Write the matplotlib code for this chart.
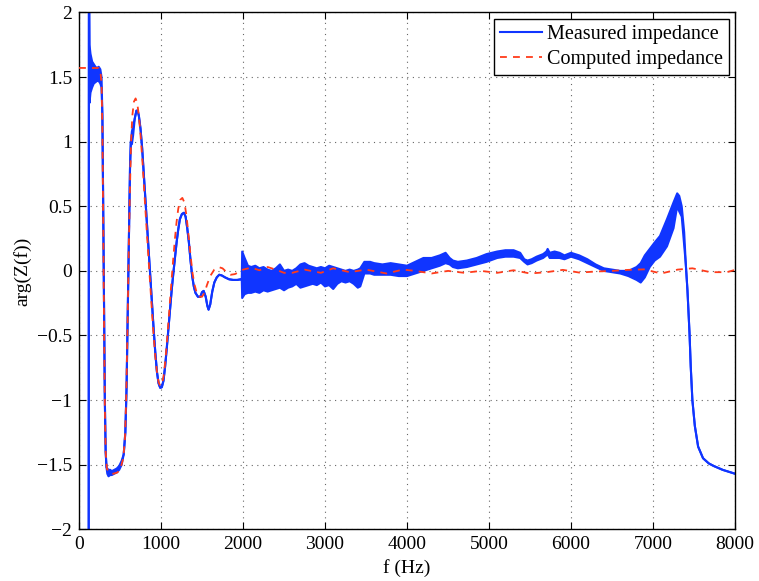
import numpy as np
import matplotlib
matplotlib.use("Agg")
import matplotlib.pyplot as plt

# ---- Measured impedance phase: frequency, lower and upper envelope (noise band) ----
meas_f = [118, 121, 128, 140, 160, 180, 200, 220, 240, 260, 275, 285, 295, 305, 315, 325, 335,
          345, 360, 380, 400, 430, 460, 490, 520, 545, 565, 580, 595, 610, 622, 632, 645, 660,
          680, 700, 715, 730, 750, 770, 790, 810, 830, 850, 870, 890, 910, 930, 950, 970, 990,
          1010, 1030, 1050, 1070, 1090, 1110, 1130, 1150, 1170, 1190, 1210, 1230, 1255, 1280,
          1300, 1320, 1340, 1360, 1380, 1400, 1420, 1450, 1480, 1500, 1520, 1545, 1565, 1580,
          1600, 1625, 1650, 1680, 1710, 1740, 1780, 1830, 1880, 1930, 1975, 1985,
          1990, 2020, 2060, 2100, 2150, 2200, 2250, 2300, 2350, 2400, 2450, 2500, 2550, 2600,
          2650, 2700, 2750, 2800, 2850, 2900, 2950, 3000, 3050, 3100, 3150, 3200, 3250, 3300,
          3350, 3400, 3430, 3480, 3550, 3600, 3700, 3800, 3900, 4000, 4100, 4200, 4300, 4400,
          4470, 4520, 4560, 4620, 4730, 4850, 4970, 5100, 5200, 5300, 5380, 5430, 5470, 5520,
          5580, 5660, 5700, 5715, 5740, 5800, 5860, 5920, 6000, 6100, 6200, 6300, 6400, 6500,
          6600, 6700, 6800, 6850, 6900, 6960, 7020, 7085, 7170, 7250, 7295, 7320, 7350, 7380,
          7400, 7420, 7435, 7445, 7460, 7480, 7510, 7550, 7610, 7680, 7740, 7850, 8000]
meas_lo = [-2.5, 2.5, 1.30, 1.38, 1.42, 1.45, 1.46, 1.47, 1.47, 1.45, 1.42, 1.20, 0.50, -0.30, -1.00, -1.40, -1.52,
           -1.57, -1.59, -1.58, -1.58, -1.57, -1.56, -1.54, -1.50, -1.42, -1.25, -0.90, -0.30, 0.30, 0.80, 1.00, 0.98, 1.05,
           1.18, 1.24, 1.24, 1.20, 1.10, 0.95, 0.75, 0.55, 0.35, 0.15, -0.05, -0.25, -0.45, -0.63, -0.78, -0.87, -0.905,
           -0.90, -0.85, -0.74, -0.60, -0.45, -0.30, -0.15, -0.02, 0.10, 0.22, 0.32, 0.40, 0.44, 0.45,
           0.42, 0.33, 0.22, 0.08, -0.04, -0.12, -0.17, -0.20, -0.20, -0.165, -0.155, -0.20, -0.27, -0.30,
           -0.26, -0.16, -0.09, -0.05, -0.03, -0.035, -0.05, -0.065, -0.07, -0.07, -0.065, -0.07,
           -0.21, -0.18, -0.17, -0.17, -0.16, -0.17, -0.15, -0.16, -0.15, -0.14, -0.13, -0.15, -0.13, -0.12,
           -0.10, -0.13, -0.12, -0.11, -0.10, -0.11, -0.09, -0.12, -0.11, -0.14, -0.10, -0.08, -0.09, -0.08,
           -0.10, -0.13, -0.12, -0.02, -0.02, -0.03, -0.03, -0.03, -0.04, -0.04, -0.02, 0.00, 0.02, 0.04,
           0.06, 0.05, 0.03, 0.02, 0.03, 0.05, 0.07, 0.10, 0.11, 0.11, 0.10, 0.07, 0.05, 0.06,
           0.08, 0.10, 0.12, 0.13, 0.10, 0.10, 0.10, 0.09, 0.11, 0.09, 0.06, 0.03, 0.00, -0.01,
           -0.02, -0.04, -0.07, -0.09, -0.05, 0.03, 0.08, 0.11, 0.19, 0.33, 0.50, 0.46, 0.42, 0.20,
           0.05, -0.15, -0.35, -0.48, -0.74, -1.00, -1.20, -1.36, -1.45, -1.49, -1.51, -1.54, -1.57]
meas_hi = [-2.5, 2.5, 1.75, 1.68, 1.62, 1.60, 1.58, 1.57, 1.58, 1.56, 1.50, 1.20, 0.50, -0.30, -1.00, -1.40, -1.52,
           -1.53, -1.54, -1.54, -1.55, -1.54, -1.53, -1.51, -1.47, -1.42, -1.25, -0.90, -0.30, 0.30, 0.80, 1.00, 1.08, 1.12,
           1.18, 1.24, 1.24, 1.20, 1.10, 0.95, 0.75, 0.55, 0.35, 0.15, -0.05, -0.25, -0.45, -0.63, -0.78, -0.87, -0.905,
           -0.90, -0.85, -0.74, -0.60, -0.45, -0.30, -0.15, -0.02, 0.10, 0.22, 0.32, 0.40, 0.44, 0.45,
           0.42, 0.33, 0.22, 0.08, -0.04, -0.12, -0.17, -0.20, -0.20, -0.165, -0.155, -0.20, -0.27, -0.30,
           -0.26, -0.16, -0.09, -0.05, -0.03, -0.035, -0.05, -0.065, -0.07, -0.07, -0.065, -0.06,
           0.15, 0.10, 0.04, 0.03, 0.04, 0.02, 0.03, 0.01, 0.00, 0.02, 0.05, 0.00, 0.01, 0.00,
           0.02, 0.05, 0.06, 0.04, 0.03, 0.02, 0.03, 0.02, 0.04, 0.03, 0.02, 0.01, 0.00, 0.01,
           0.00, 0.01, 0.02, 0.07, 0.07, 0.06, 0.05, 0.06, 0.05, 0.04, 0.07, 0.10, 0.10, 0.12,
           0.14, 0.10, 0.08, 0.07, 0.08, 0.10, 0.13, 0.15, 0.16, 0.16, 0.14, 0.09, 0.08, 0.09,
           0.11, 0.13, 0.15, 0.17, 0.14, 0.15, 0.14, 0.12, 0.14, 0.12, 0.09, 0.05, 0.02, 0.01,
           0.00, 0.00, 0.03, 0.06, 0.12, 0.17, 0.22, 0.27, 0.40, 0.53, 0.60, 0.58, 0.50, 0.30,
           0.05, -0.15, -0.35, -0.48, -0.74, -1.00, -1.20, -1.36, -1.45, -1.49, -1.51, -1.54, -1.57]

# ---- Computed impedance phase ----
comp_f = [0, 240, 260, 275, 285, 295, 305, 315, 325, 340, 370, 420, 470, 510, 540, 560, 575, 590,
          605, 620, 635, 650, 670, 690, 710, 730, 750, 770, 790, 810, 830, 850, 870, 890, 910,
          930, 950, 970, 990, 1010, 1030, 1050, 1070, 1090, 1110, 1130, 1150, 1170, 1190, 1210,
          1235, 1260, 1285, 1310, 1335, 1360, 1385, 1410, 1440, 1470, 1500, 1530, 1560, 1600,
          1650, 1700, 1750, 1800, 1850, 1900, 1950, 2000, 2100, 2200, 2300, 2400, 2500, 2600,
          2750, 2950, 3100, 3300, 3500, 3750, 3950, 4100, 4300, 4500, 4700, 4900, 5100, 5300,
          5500, 5700, 5900, 6100, 6300, 6500, 6700, 6900, 7000, 7100, 7200, 7300, 7480, 7700,
          7900, 8000]
comp_v = [1.571, 1.57, 1.55, 1.45, 1.10, 0.40, -0.40, -1.05, -1.40, -1.53, -1.565, -1.57, -1.56, -1.52, -1.45, -1.30, -1.00, -0.50,
          0.10, 0.60, 1.00, 1.20, 1.31, 1.335, 1.30, 1.20, 1.05, 0.88, 0.68, 0.47, 0.27, 0.07, -0.12, -0.32, -0.50,
          -0.66, -0.78, -0.86, -0.89, -0.88, -0.82, -0.71, -0.57, -0.40, -0.23, -0.06, 0.10, 0.25, 0.38, 0.48,
          0.55, 0.565, 0.53, 0.43, 0.28, 0.12, -0.02, -0.11, -0.18, -0.20, -0.20, -0.17, -0.11, -0.04,
          0.01, 0.03, 0.02, -0.01, -0.03, -0.025, -0.01, 0.01, 0.025, 0.005, 0.03, 0.01, -0.015, -0.015,
          0.01, -0.015, 0.02, -0.01, 0.01, -0.02, 0.01, 0.00, -0.02, 0.00, -0.015, 0.00, -0.015, 0.005,
          -0.02, -0.01, 0.008, -0.013, -0.005, 0.00, 0.008, 0.012, -0.005, -0.02, -0.005, 0.01, 0.02, -0.01,
          -0.01, 0.008]

x_ticks = [0, 1000, 2000, 3000, 4000, 5000, 6000, 7000, 8000]
y_ticks = [-2, -1.5, -1, -0.5, 0, 0.5, 1, 1.5, 2]
y_tick_labels = ["\u22122", "\u22121.5", "\u22121", "\u22120.5", "0", "0.5", "1", "1.5", "2"]

plt.rcParams['font.family'] = ['Liberation Serif', 'DejaVu Serif']
plt.rcParams['font.size'] = 14

fig = plt.figure(figsize=(7.59, 5.81), dpi=100)
ax = fig.add_axes([0.1041, 0.089, 0.8643, 0.8895])

blue = '#1035ff'
red = '#ff3b1a'

ax.fill_between(meas_f, meas_lo, meas_hi, color=blue, lw=0, zorder=2)
ax.plot(meas_f, meas_lo, color=blue, lw=1.5, zorder=2, label='Measured impedance')
ax.plot(meas_f, meas_hi, color=blue, lw=1.5, zorder=2)
ax.plot(comp_f, comp_v, color=red, lw=1.3, dashes=[3.8, 3.4], zorder=3, label='Computed impedance')

ax.set_xlim(0, 8000)
ax.set_ylim(-2, 2)
ax.set_xticks(x_ticks)
ax.set_yticks(y_ticks)
ax.set_yticklabels(y_tick_labels)
ax.tick_params(direction='in', length=5, width=0.8, top=True, right=True, pad=5, labelsize=14)
ax.grid(True, linestyle=(0, (1, 4)), color='0.4', linewidth=0.8)
for s in ax.spines.values():
    s.set_linewidth(1.0)

ax.set_xlabel('f (Hz)', fontsize=14, labelpad=4)
ax.set_ylabel('arg(Z(f))', fontsize=14, labelpad=4)

h, l = ax.get_legend_handles_labels()
leg = ax.legend(h, l, loc='upper right', fontsize=14.5, frameon=True, fancybox=False,
                edgecolor='black', framealpha=1, borderaxespad=0.3, handlelength=2.1,
                handletextpad=0.25, labelspacing=0.3, borderpad=0.3)
leg.get_frame().set_linewidth(1.0)

fig.savefig('out.png', dpi=100)
